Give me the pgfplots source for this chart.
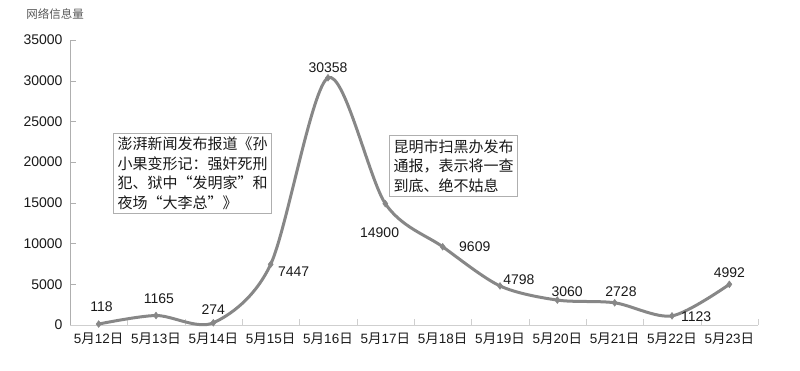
\documentclass[border=0pt]{standalone}
\usepackage{pgfplots}
\pgfplotsset{compat=1.18}
\usepackage{fontspec}
\setmainfont{Liberation Sans}
\newfontfamily\cjkfont{Noto Sans CJK SC}
\newcommand\cj[1]{{\cjkfont #1}}
\definecolor{linegray}{RGB}{135,135,135}
\definecolor{txt}{RGB}{25,25,25}
\definecolor{axgray}{RGB}{175,175,175}
\begin{document}
\begin{tikzpicture}
\path[use as bounding box] (0,0) rectangle (800pt,370pt);
\begin{axis}[
  at={(70pt,45pt)}, anchor=south west,
  scale only axis, width=688pt, height=285pt,
  xmin=-0.5, xmax=11.5, ymin=0, ymax=35000,
  axis lines=left,
  axis line style={-},
  x axis line style={draw=axgray!60},
  y axis line style={draw=axgray},
  ytick={0,5000,...,35000},
  scaled y ticks=false,
  /pgf/number format/1000 sep={},
  /pgf/number format/assume math mode=true,
  y tick label style={font=\fontsize{14}{15}\selectfont, text=txt},
  ytick style={draw=axgray},
  tick align=inside,
  major tick length=6pt,
  yticklabel shift=4pt,
  xtick={0,...,11},
  xticklabels={5\cj{月}12\cj{日},5\cj{月}13\cj{日},5\cj{月}14\cj{日},5\cj{月}15\cj{日},5\cj{月}16\cj{日},5\cj{月}17\cj{日},5\cj{月}18\cj{日},5\cj{月}19\cj{日},5\cj{月}20\cj{日},5\cj{月}21\cj{日},5\cj{月}22\cj{日},5\cj{月}23\cj{日}},
  x tick label style={font=\fontsize{13.5}{14}\selectfont, text=txt, yshift=-4pt},
  major x tick style={draw=none},
  minor xtick={-0.5,0.5,...,11.5},
  minor x tick style={draw=axgray!60},
  minor tick length=6pt,
  clip=false,
]
\addplot[smooth, color=linegray, line width=3pt, mark=diamond*, mark size=3.4pt, mark options={fill=linegray, line width=0.5pt}]
coordinates {(0,118)(1,1165)(2,274)(3,7447)(4,30358)(5,14900)(6,9609)(7,4798)(8,3060)(9,2728)(10,1123)(11,4992)};
\begin{scope}[every node/.style={font=\fontsize{14}{15}\selectfont, text=txt}]
\node at (axis cs:0.05,2210) {118};
\node at (axis cs:1.05,3193) {1165};
\node at (axis cs:2.0,1842) {274};
\node at (axis cs:3.4,6508) {7447};
\node at (axis cs:4.0,31560) {30358};
\node at (axis cs:4.9,11298) {14900};
\node at (axis cs:6.56,9578) {9609};
\node at (axis cs:7.33,5526) {4798};
\node at (axis cs:8.17,4052) {3060};
\node at (axis cs:9.11,4052) {2728};
\node at (axis cs:10.42,982) {1123};
\node at (axis cs:11.0,6386) {4992};
\end{scope}
\end{axis}
\node[text=black!65, font=\cjkfont\fontsize{11.5}{12}\selectfont] at (55pt,356pt) {网络信息量};
\node[draw=axgray, fill=white, line width=0.8pt, inner sep=4pt, align=left, text=txt,
  font=\cjkfont\fontsize{15}{19.5}\selectfont] at (192.5pt,196.5pt)
  {澎湃新闻发布报道《孙\\小果变形记：强奸死刑\\犯、狱中“发明家”和\\夜场“大李总”》};
\node[draw=axgray, fill=white, line width=0.8pt, inner sep=4pt, align=left, text=txt,
  font=\cjkfont\fontsize{15}{19.5}\selectfont] at (453.5pt,204pt)
  {昆明市扫黑办发布\\通报，表示将一查\\到底、绝不姑息};
\end{tikzpicture}
\end{document}
